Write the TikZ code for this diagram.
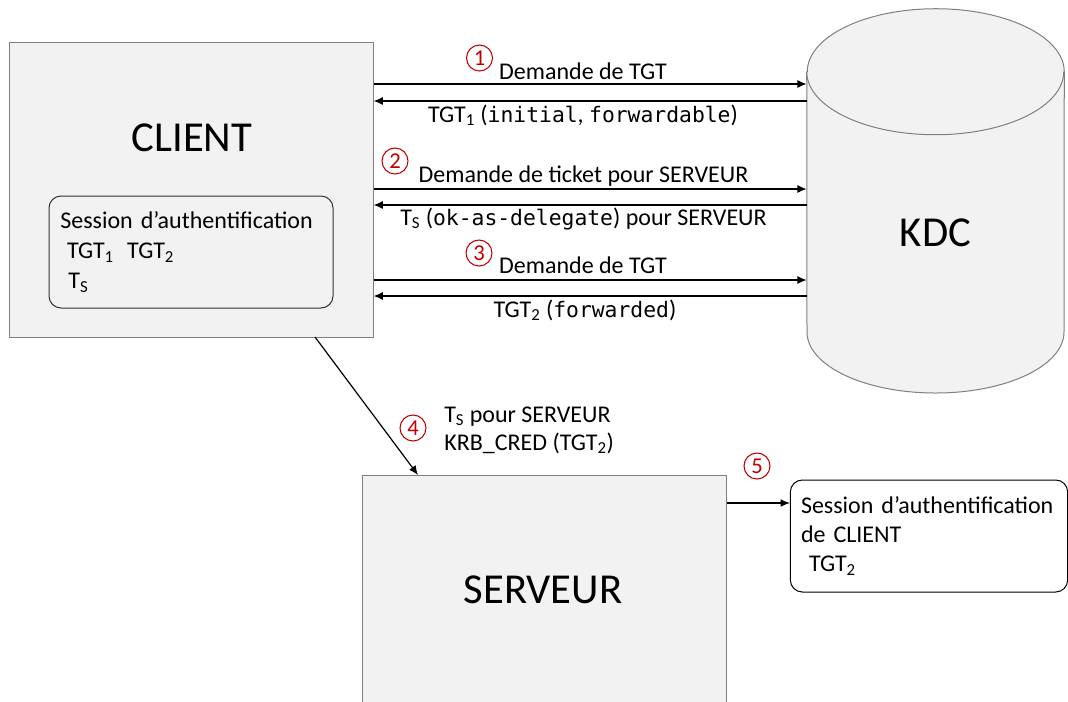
\documentclass[tikz,border=0pt]{standalone}
\usepackage{fontspec}
\setmainfont{Carlito}
\newfontfamily\codefont{DejaVu Sans Mono}[Scale=0.89]
\usetikzlibrary{arrows.meta,positioning}
\definecolor{boxgray}{HTML}{F2F2F2}
\definecolor{edgegray}{HTML}{7F7F7F}
\definecolor{numred}{HTML}{C00000}
\newcommand{\cd}[1]{{\codefont #1}}
\newcommand{\lo}[1]{\textsubscript{#1}}
\tikzset{
  bigbox/.style={draw=edgegray, fill=boxgray, line width=0.75pt, inner sep=0pt},
  bigname/.style={font=\fontsize{32}{38}\selectfont},
  sessbox/.style={draw=black!80, fill=boxgray, line width=0.75pt, rounded corners=9pt,
    align=left, inner xsep=8pt, inner ysep=0pt},
  msg/.style={-{Latex[length=7pt,width=6pt]}, line width=1.1pt},
  lbl/.style={font=\fontsize{18}{22}\selectfont, inner sep=0pt, anchor=base},
  numcirc/.style={circle, draw=numred, text=numred, line width=0.8pt, inner sep=0pt,
    minimum size=19.5pt, font=\fontsize{17}{17}\selectfont}
}
\begin{document}
\begin{tikzpicture}[x=0.75pt,y=-0.75pt]
\useasboundingbox (0,0) rectangle (1068,701);

% CLIENT
\node[bigbox, minimum width=273pt, minimum height=221.25pt] (client) at (191,189.5) {};
\node[bigname] (clientname) at (192,138) {CLIENT};
\node[sessbox, minimum width=213pt, minimum height=84pt, text width=196pt,
  font=\fontsize{18}{22.5}\selectfont] (sess1) at (191,252)
  {Session d’authentification\\ \hspace{5pt}TGT\lo{1}\hspace{10pt}TGT\lo{2}\\ \hspace{6pt}T\lo{S}};

% KDC
\node[minimum width=192.75pt, minimum height=240.75pt, inner sep=0pt] (kdc) at (935.5,232.5) {};
\fill[boxgray] (kdc.north west) -- (807,332) arc[start angle=180,end angle=0,x radius=128.5,y radius=61]
  -- (kdc.north east) arc[start angle=0,end angle=-180,x radius=128.5,y radius=63] -- cycle;
\draw[edgegray, line width=0.75pt] (kdc.north west) -- (807,332) arc[start angle=180,end angle=0,x radius=128.5,y radius=61]
  -- (kdc.north east) arc[start angle=0,end angle=-180,x radius=128.5,y radius=63];
\draw[edgegray, line width=0.75pt] (kdc.north west) arc[start angle=180,end angle=0,x radius=128.5,y radius=63];
\node[bigname] (kdcname) at (kdc) {KDC};

% SERVEUR
\node[bigbox, minimum width=273pt, minimum height=176.25pt] (serveur) at (544,592.5) {};
\node[bigname] (serveurname) at (543,590) {SERVEUR};
\node[sessbox, fill=white, draw=black, minimum width=207pt, minimum height=84pt, text width=192pt,
  font=\fontsize{18}{21.75}\selectfont] (sess2) at (929,536)
  {Session d’authentification\\ de CLIENT\\ \hspace{6pt}TGT\lo{2}};

% messages client <-> kdc
\foreach \y in {84,189,280}
{
  \coordinate (m\y) at (0,\y);
  \draw[msg] (client.east |- m\y) -- (kdc.west |- m\y);
}
\foreach \y in {101,205,296}
{
  \coordinate (m\y) at (0,\y);
  \draw[msg] (kdc.west |- m\y) -- (client.east |- m\y);
}
\node[lbl] (l1) at (583,79) {Demande de TGT};
\node[lbl] (l2) at (583,122) {TGT\lo{1} (\cd{initial}, \cd{forwardable})};
\node[lbl] (l3) at (583.5,182) {Demande de ticket pour SERVEUR};
\node[lbl] (l4) at (583.5,225) {T\lo{S} (\cd{ok-as-delegate}) pour SERVEUR};
\node[lbl] (l5) at (583,273) {Demande de TGT};
\node[lbl] (l6) at (585,317) {TGT\lo{2} (\cd{forwarded})};

% client -> serveur, serveur -> session
\coordinate (c4) at (315,337);
\coordinate (s4) at (418,475);
\draw[msg, line width=0.9pt] (c4) -- (s4);
\node[lbl, anchor=base west] (l7) at (444,422) {T\lo{S} pour SERVEUR};
\node[lbl, anchor=base west] (l8) at (444,450) {KRB\_CRED (TGT\lo{2})};
\coordinate (m503) at (0,503);
\draw[msg, line width=0.9pt] (serveur.east |- m503) -- (sess2.west |- m503);

% step numbers
\foreach \n/\x/\y in {1/479.5/58,2/395/161,3/479/253,4/413/428,5/757/466}
  \node[numcirc] (n\n) at (\x,\y) {\n};
\end{tikzpicture}
\end{document}
